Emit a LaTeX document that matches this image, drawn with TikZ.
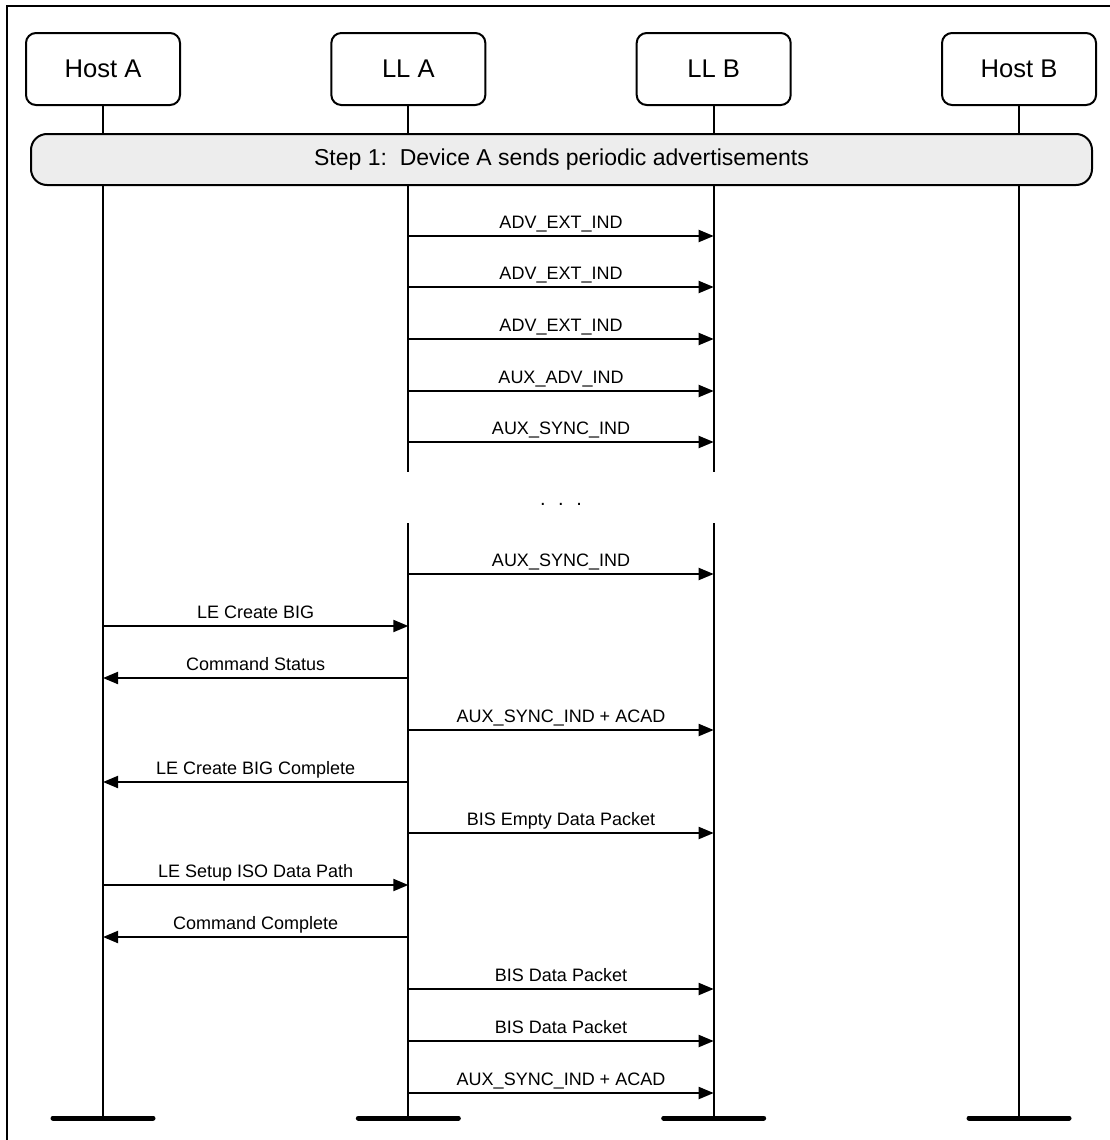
\documentclass[tikz,border=0pt]{standalone}
\usepackage{fontspec}
\setmainfont{Liberation Sans}
\usetikzlibrary{positioning, arrows.meta}
\tikzset{
  actor/.style={rectangle, rounded corners=5pt, draw, line width=1pt, fill=white,
    minimum width=77pt, minimum height=36pt, inner sep=2pt, font=\fontsize{12.8}{15}\selectfont},
  phase/.style={rectangle, rounded corners=8pt, draw, line width=1pt, fill=black!7,
    minimum width=530.5pt, minimum height=25.5pt, inner sep=2pt, font=\fontsize{11.5}{14}\selectfont},
  life/.style={line width=1pt},
  foot/.style={line width=2.5pt, line cap=round},
  msg/.style={-{Triangle[length=7.5pt, width=6pt]}, line width=1pt},
  lbl/.style={above=3.2pt, inner sep=0pt, text depth=0pt, font=\fontsize{9}{11}\selectfont},
}
\begin{document}
\begin{tikzpicture}[x=0.5pt, y=-0.5pt, node distance=74.67pt]
    \useasboundingbox (0,0) rectangle (1109,1140);
    \draw[line width=1pt] (7,1150) -- (7,6) -- (1120,6);
    % participants
    \node[actor] at (103,69) (hosta) {Host A};
    \node[actor, right=of hosta] (lla) {LL A};
    \node[actor, right=of lla] (llb) {LL B};
    \node[actor, right=of llb] (hostb) {Host B};
    \coordinate (bot) at (0,1118);
    \coordinate (gtop) at (0,472);
    \coordinate (gbot) at (0,523);
    \foreach \y [count=\n] in {236,287,339,391,442,574,626,678,730,782,833,885,937,989,1041,1093}
      \coordinate (m\n) at (0,\y);
    % lifelines
    \draw[life] (hosta.south) -- (hosta |- bot);
    \draw[life] (hostb.south) -- (hostb |- bot);
    \draw[life] (lla.south) -- (lla |- gtop); \draw[life] (lla |- gbot) -- (lla |- bot);
    \draw[life] (llb.south) -- (llb |- gtop); \draw[life] (llb |- gbot) -- (llb |- bot);
    \draw[foot] ([xshift=-25pt]hosta |- bot) -- ([xshift=25pt]hosta |- bot);
    \draw[foot] ([xshift=-25pt]lla |- bot) -- ([xshift=25pt]lla |- bot);
    \draw[foot] ([xshift=-25pt]llb |- bot) -- ([xshift=25pt]llb |- bot);
    \draw[foot] ([xshift=-25pt]hostb |- bot) -- ([xshift=25pt]hostb |- bot);
    \node[phase] at (561.5,159.5) (step) {Step 1:\ \ Device A sends periodic advertisements};
    % messages
    \draw[msg] (lla |- m1) -- node[lbl]{ADV\_EXT\_IND} (llb |- m1);
    \draw[msg] (lla |- m2) -- node[lbl]{ADV\_EXT\_IND} (llb |- m2);
    \draw[msg] (lla |- m3) -- node[lbl]{ADV\_EXT\_IND} (llb |- m3);
    \draw[msg] (lla |- m4) -- node[lbl]{AUX\_ADV\_IND} (llb |- m4);
    \draw[msg] (lla |- m5) -- node[lbl]{AUX\_SYNC\_IND} (llb |- m5);
    \node[anchor=base, inner sep=0pt, font=\fontsize{10}{12}\selectfont] at (561,505) (dots) {.\hspace{6.3pt}.\hspace{6.3pt}.};
    \draw[msg] (lla |- m6) -- node[lbl]{AUX\_SYNC\_IND} (llb |- m6);
    \draw[msg] (hosta |- m7) -- node[lbl]{LE Create BIG} (lla |- m7);
    \draw[msg] (lla |- m8) -- node[lbl]{Command Status} (hosta |- m8);
    \draw[msg] (lla |- m9) -- node[lbl]{AUX\_SYNC\_IND + ACAD} (llb |- m9);
    \draw[msg] (lla |- m10) -- node[lbl]{LE Create BIG Complete} (hosta |- m10);
    \draw[msg] (lla |- m11) -- node[lbl]{BIS Empty Data Packet} (llb |- m11);
    \draw[msg] (hosta |- m12) -- node[lbl]{LE Setup ISO Data Path} (lla |- m12);
    \draw[msg] (lla |- m13) -- node[lbl]{Command Complete} (hosta |- m13);
    \draw[msg] (lla |- m14) -- node[lbl]{BIS Data Packet} (llb |- m14);
    \draw[msg] (lla |- m15) -- node[lbl]{BIS Data Packet} (llb |- m15);
    \draw[msg] (lla |- m16) -- node[lbl]{AUX\_SYNC\_IND + ACAD} (llb |- m16);
\end{tikzpicture}
\end{document}
